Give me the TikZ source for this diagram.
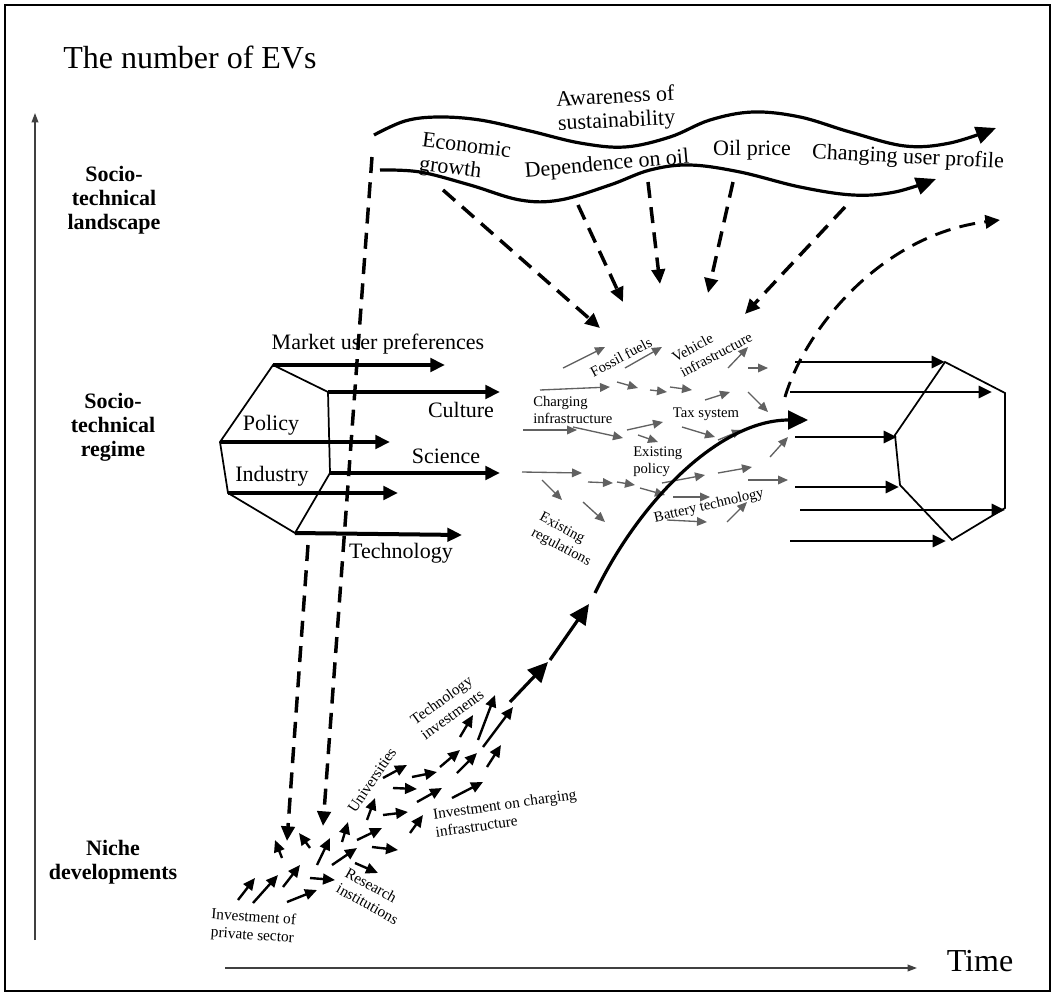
\documentclass[tikz,border=0pt]{standalone}
\usepackage{fontspec}
\setmainfont{Liberation Serif}
\usetikzlibrary{arrows.meta}
\begin{document}
\begin{tikzpicture}[x=0.75pt,y=-0.75pt,
 every node/.style={inner sep=0pt},
 lvl/.style={font=\fontsize{16.5}{18}\selectfont\bfseries, align=center},
 big/.style={font=\fontsize{16.5}{18}\selectfont},
 small/.style={font=\fontsize{11}{13}\selectfont},
 nichelbl/.style={font=\fontsize{11.5}{13.5}\selectfont},
 land/.style={line width=2.4pt, -{Triangle[length=15pt,width=13pt]}},
 dasharr/.style={line width=2.6pt, dash pattern=on 12pt off 7pt, -{Triangle[length=11pt,width=10pt]}},
 regarr/.style={line width=3pt, -{Triangle[length=11pt,width=10pt]}},
 rarr/.style={line width=2.2pt, -{Triangle[length=10pt,width=9pt]}},
 grayarr/.style={draw=black!62, line width=1pt, -{Triangle[length=7.5pt,width=6.5pt]}},
 nicharr/.style={line width=1.8pt, -{Triangle[length=9pt,width=8pt]}},
 mainarr/.style={line width=2.4pt, -{Triangle[length=15pt,width=14pt]}},
 axisarr/.style={line width=1.1pt, draw=black!75, -{Triangle[length=7pt,width=5pt]}},
 polyline/.style={line width=1.3pt, line join=miter},
]
\useasboundingbox (0,0) rectangle (1054,996);
\draw[line width=1.6pt] (5,5) rectangle (1050,991);

% axes
\coordinate (yaxb) at (35,940);
\coordinate (yaxt) at (35,113);
\coordinate (xaxl) at (225,968);
\coordinate (xaxr) at (917,968);
\draw[axisarr] (yaxb) -- (yaxt);
\draw[axisarr] (xaxl) -- (xaxr);

% texts: titles and levels
\node[anchor=base west, font=\fontsize{24}{28}\selectfont] (title) at (63,68) {The number of EVs};
\node[font=\fontsize{24}{28}\selectfont] (time) at (980,961) {Time};
\node[lvl] (landscape) at (114,200) {Socio-\\technical\\landscape};
\node[lvl] (regime) at (113,427) {Socio-\\technical\\regime};
\node[lvl] (niche) at (113,862) {Niche\\developments};

% landscape band
\draw[land] plot[smooth, tension=0.6] coordinates {(374,135) (405,121) (438,117) (480,120) (530,131) (580,143) (625,147) (670,137) (710,120) (753,112) (800,117) (850,132) (905,146) (950,143) (996,128)};
\draw[land] plot[smooth, tension=0.6] coordinates {(380,170) (420,172) (470,185) (520,200) (560,200) (610,185) (650,170) (690,165) (740,172) (800,187) (853,195) (895,192) (936,179)};

\node[big, align=center, rotate=3] (aware) at (616,110) {Awareness of\\sustainability};
\node[big, align=left, rotate=-7] (econ) at (465,159) {Economic\\growth};
\node[big, rotate=5] (dep) at (607,165) {Dependence on oil};
\node[big] (oil) at (752,150) {Oil price};
\node[big, rotate=-3] (user) at (908,158) {Changing user profile};

% dashed arrows from landscape
\coordinate (d1a) at (443,190); \coordinate (d1b) at (600,328);
\coordinate (d2a) at (578,205); \coordinate (d2b) at (623,302);
\coordinate (d3a) at (648,182); \coordinate (d3b) at (660,284);
\coordinate (d4a) at (733,182); \coordinate (d4b) at (708,293);
\coordinate (d5a) at (845,207); \coordinate (d5b) at (745,314);
\coordinate (d6a) at (785,397); \coordinate (d6b) at (1000,220);
\coordinate (d7a) at (372,157); \coordinate (d7b) at (323,826);
\coordinate (d8a) at (308,545); \coordinate (d8b) at (287,841);
\draw[dasharr] (d1a) -- (d1b);
\draw[dasharr] (d2a) -- (d2b);
\draw[dasharr] (d3a) -- (d3b);
\draw[dasharr] (d4a) -- (d4b);
\draw[dasharr] (d5a) -- (d5b);
\draw[dasharr, line width=2.2pt] (d6a) .. controls (805,330) and (880,235) .. (d6b);
\draw[dasharr] (d7a) -- (d7b);
\draw[dasharr] (d8a) -- (d8b);

% left regime polygon
\coordinate (p1) at (273,365);
\coordinate (p2) at (328,392);
\coordinate (p3) at (330,473);
\coordinate (p4) at (295,533);
\coordinate (p5) at (228,493);
\coordinate (p6) at (220,442);
\draw[polyline] (p1) -- (p2) -- (p3) -- (p4) -- (p5) -- (p6) -- cycle;
\coordinate (q1) at (445,365);
\coordinate (q2) at (500,392);
\coordinate (q3) at (500,473);
\coordinate (q4) at (462,535);
\coordinate (q5) at (398,493);
\coordinate (q6) at (390,442);
\draw[regarr] (p1) -- (q1);
\draw[regarr] (p2) -- (q2);
\draw[regarr] (p3) -- (q3);
\draw[regarr] (p4) -- (q4);
\draw[regarr] (p5) -- (q5);
\draw[regarr] (p6) -- (q6);
\node[big] (market) at (378,344) {Market user preferences};
\node[big] (culture) at (461,410) {Culture};
\node[big] (policy) at (271,425) {Policy};
\node[big] (science) at (446,456) {Science};
\node[big] (industry) at (272,476) {Industry};
\node[big] (techno) at (401,553) {Technology};

% right regime polygon
\coordinate (r1) at (945,362);
\coordinate (r2) at (1005,393);
\coordinate (r3) at (1005,508);
\coordinate (r4) at (952,540);
\coordinate (r5) at (900,485);
\coordinate (r6) at (895,435);
\draw[polyline] (r1) -- (r2) -- (r3) -- (r4) -- (r5) -- (r6) -- cycle;
\coordinate (s1) at (795,362);
\coordinate (s2) at (790,392);
\coordinate (s3) at (795,437);
\coordinate (s4) at (795,487);
\coordinate (s5) at (800,510);
\coordinate (s6) at (790,541);
\draw[rarr] (s1) -- (r1);
\draw[rarr] (s2) -- (992,392);
\draw[rarr] (s3) -- (897,437);
\draw[rarr] (s4) -- (899,487);
\draw[rarr] (s5) -- (1005,510);
\draw[rarr] (s6) -- (946,541);

% gray regime arrows
\foreach \ax/\ay/\bx/\by in {563/368/605/347, 625/368/662/347, 540/390/610/387, 617/382/638/388, 650/390/667/392, 670/387/692/390, 728/368/748/347, 748/368/768/368, 705/400/730/392, 748/392/768/412, 523/430/577/430, 573/427/623/438, 627/430/663/422, 638/435/658/442, 682/427/715/437, 718/440/742/430, 770/457/788/437, 522/472/582/473, 588/482/613/483, 617/482/635/485, 640/488/665/495, 542/480/562/500, 583/502/605/522, 662/483/705/475, 718/473/752/467, 748/480/788/480, 673/497/710/497, 667/520/707/522, 727/522/747/502}
  \draw[grayarr] (\ax,\ay) -- (\bx,\by);

\node[small, rotate=28] (fossil) at (621,357) {Fossil fuels};
\node[small, align=left, rotate=28] (vehicle) at (712,347) {Vehicle\\infrastructure};
\node[small, align=left, anchor=west] (charging) at (533,410) {Charging\\infrastructure};
\node[small] (tax) at (706,414) {Tax system};
\node[small, align=left, anchor=west] (expolicy) at (633,462) {Existing\\policy};
\node[small, rotate=13] (battery) at (709,506) {Battery technology};
\node[small, align=left, rotate=-28] (exreg) at (565,540) {Existing\\regulations};

% niche arrows
\foreach \ax/\ay/\bx/\by in {238/900/255/878, 253/903/278/875, 283/887/300/865, 287/902/317/890, 310/878/335/880, 282/858/275/840, 310/848/299/833, 317/865/330/838, 332/865/357/848, 342/842/348/822, 355/863/378/873, 357/840/382/828, 367/820/375/798, 372/847/398/850, 383/815/408/812, 383/778/407/765, 393/788/417/789, 410/833/423/815, 412/777/437/772, 417/802/442/788, 440/767/460/750, 457/773/477/753, 452/798/483/782, 487/767/501/745, 460/737/473/715, 478/740/495/695, 483/747/513/707}
  \draw[nicharr] (\ax,\ay) -- (\bx,\by);

\coordinate (m1a) at (510,702); \coordinate (m1b) at (548,662);
\coordinate (m2a) at (550,660); \coordinate (m2b) at (589,604);
\coordinate (m3a) at (595,593); \coordinate (m3b) at (808,420);
\draw[mainarr] (m1a) -- (m1b);
\draw[mainarr] (m2a) -- (m2b);
\draw[mainarr] (m3a) .. controls (640,500) and (720,420) .. (m3b);

\node[nichelbl, align=center, rotate=-4] (private) at (253,927) {Investment of\\private sector};
\node[nichelbl, align=left, rotate=-29] (research) at (372,896) {Research\\institutions};
\node[nichelbl, rotate=56] (univ) at (372,780) {Universities};
\node[nichelbl, align=left, rotate=36] (techinv) at (447,707) {Technology\\investments};
\node[nichelbl, align=left, rotate=8] (invcharg) at (506,813) {Investment on charging\\infrastructure};
\end{tikzpicture}
\end{document}
